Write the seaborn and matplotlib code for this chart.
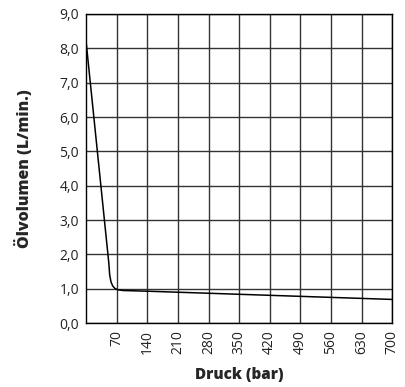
import matplotlib
matplotlib.use("Agg")
import matplotlib.pyplot as plt
import seaborn as sns
import pandas as pd

# Flow curve of the pump: pressure (bar) vs. oil volume (L/min)
druck = [0, 52, 54, 57, 61, 66, 73, 85, 140, 700]
oelvolumen = [8.2, 1.75, 1.4, 1.2, 1.08, 1.01, 0.97, 0.95, 0.93, 0.69]

x_ticks = [70, 140, 210, 280, 350, 420, 490, 560, 630, 700]
y_ticks = [0, 1, 2, 3, 4, 5, 6, 7, 8, 9]

sns.set_theme(style="white")
plt.rcParams["font.family"] = ["Open Sans", "DejaVu Sans"]

df = pd.DataFrame({"Druck": druck, "Volumen": oelvolumen})

fig = plt.figure(figsize=(4.06, 3.87), dpi=100)
ax = fig.add_axes([0.212, 0.165, 0.754, 0.799])

sns.lineplot(data=df, x="Druck", y="Volumen", ax=ax, color="black", linewidth=1.1)

ax.set_xlim(0, 700)
ax.set_ylim(0, 9)
ax.set_xticks(x_ticks)
ax.set_yticks(y_ticks)
ax.set_xticklabels([str(t) for t in x_ticks], rotation=90, fontsize=10, color="#222222")
ax.set_yticklabels([f"{t:.1f}".replace(".", ",") for t in y_ticks], fontsize=10, color="#222222")
ax.tick_params(length=0, pad=5)

ax.grid(True, color="#333333", linewidth=1.0)
for s in ax.spines.values():
    s.set_color("black")
    s.set_linewidth(1.0)

ax.set_xlabel("Druck (bar)", fontsize=11, fontweight="heavy", labelpad=9)
ax.set_ylabel("Ölvolumen (L/min.)", fontsize=11.5, fontweight="heavy", labelpad=19)

fig.savefig("out.png", dpi=100)
